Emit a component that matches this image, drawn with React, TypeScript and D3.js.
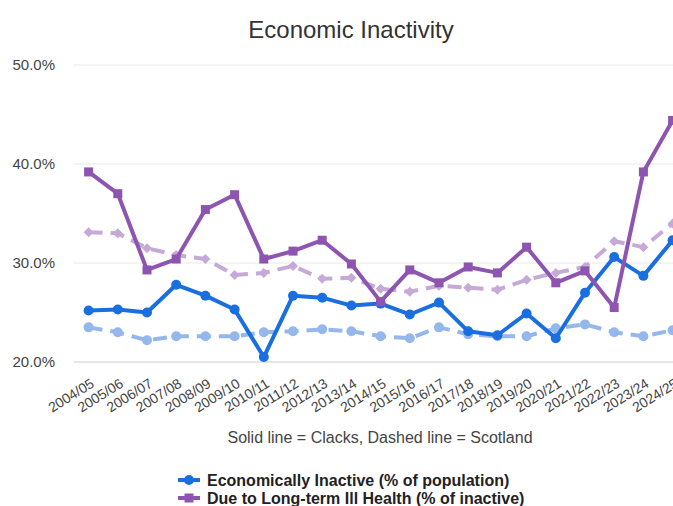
import React from "react";
import * as d3 from "d3";

const categories = ["2004/05","2005/06","2006/07","2007/08","2008/09","2009/10","2010/11","2011/12","2012/13","2013/14","2014/15","2015/16","2016/17","2017/18","2018/19","2019/20","2020/21","2021/22","2022/23","2023/24","2024/25"];
const clacksInactive = [25.2,25.3,25.0,27.8,26.7,25.3,20.5,26.7,26.5,25.7,25.9,24.8,26.0,23.1,22.7,24.9,22.4,27.0,30.6,28.7,32.3];
const clacksIllHealth = [39.2,37.0,29.3,30.4,35.4,36.9,30.4,31.2,32.3,29.9,26.1,29.3,28.0,29.6,29.0,31.6,28.0,29.2,25.5,39.2,44.4];
const scotlandInactive = [23.5,23.0,22.2,22.6,22.6,22.6,23.0,23.1,23.3,23.1,22.6,22.4,23.5,22.8,22.6,22.6,23.4,23.8,23.0,22.6,23.2];
const scotlandIllHealth = [33.1,33.0,31.5,30.8,30.4,28.8,29.0,29.7,28.4,28.5,27.4,27.1,27.7,27.5,27.3,28.3,29.0,29.6,32.2,31.6,34.0];
const yTicks = [20, 30, 40, 50];
const legendLabels = ["Economically Inactive (% of population)", "Due to Long-term Ill Health (% of inactive)"];

const W = 673, H = 506;
const left = 74, top = 65, bottom = 362;
const band = 29.2;
const font = "Arial, 'Liberation Sans', sans-serif";

export default function App() {
  const x = d3.scaleBand<string>().domain(categories).range([left, left + band * categories.length]);
  const cx = (c: string) => (x(c) as number) + x.bandwidth() / 2;
  const y = d3.scaleLinear().domain([20, 50]).range([bottom, top]);
  const line = d3.line<number>().x((_, i) => cx(categories[i])).y((d) => y(d));

  const BLUE = "#1a6fe0";
  const PURPLE = "#8e55b0";
  const LBLUE = "#94b7ec";
  const LPURPLE = "#c5a9d7";

  const sq = 9, dm = 5;
  return (
    <svg width={W} height={H} style={{ position: "absolute", left: 0, top: 0 }}>
      <rect width={W} height={H} fill="#fff" />
      <text x={351} y={38} textAnchor="middle" fontFamily={font} fontSize={24} fill="#333">Economic Inactivity</text>
      {yTicks.map((t) => (
        <g key={t}>
          <line x1={left} x2={W + 20} y1={y(t)} y2={y(t)} stroke={t === 20 ? "#ccc" : "#e8e8e8"} strokeWidth={1} />
          <text x={55} y={y(t) + 5} textAnchor="end" fontFamily={font} fontSize={15} fill="#444">{t.toFixed(1)}%</text>
        </g>
      ))}
      {/* Scotland dashed */}
      <path d={line(scotlandInactive) || ""} fill="none" stroke={LBLUE} strokeWidth={4} strokeDasharray="14 8" />
      {scotlandInactive.map((v, i) => (
        <circle key={"sb" + i} cx={cx(categories[i])} cy={y(v)} r={5} fill={LBLUE} />
      ))}
      <path d={line(scotlandIllHealth) || ""} fill="none" stroke={LPURPLE} strokeWidth={4} strokeDasharray="14 8" />
      {scotlandIllHealth.map((v, i) => {
        const px = cx(categories[i]), py = y(v);
        return <path key={"sp" + i} d={`M${px - dm},${py}L${px},${py - dm}L${px + dm},${py}L${px},${py + dm}Z`} fill={LPURPLE} />;
      })}
      {/* Clacks solid */}
      <path d={line(clacksInactive) || ""} fill="none" stroke={BLUE} strokeWidth={4} strokeLinejoin="round" />
      {clacksInactive.map((v, i) => (
        <circle key={"cb" + i} cx={cx(categories[i])} cy={y(v)} r={5} fill={BLUE} />
      ))}
      <path d={line(clacksIllHealth) || ""} fill="none" stroke={PURPLE} strokeWidth={4} strokeLinejoin="round" />
      {clacksIllHealth.map((v, i) => (
        <rect key={"cp" + i} x={cx(categories[i]) - sq / 2} y={y(v) - sq / 2} width={sq} height={sq} fill={PURPLE} />
      ))}
      {/* x labels */}
      {categories.map((c) => (
        <text key={c} transform={`translate(${cx(c) + 6.5},${bottom + 24}) rotate(-32)`} textAnchor="end" fontFamily={font} fontSize={14} fill="#444">{c}</text>
      ))}
      <text x={380} y={443} textAnchor="middle" fontFamily={font} fontSize={16} fill="#444">Solid line = Clacks, Dashed line = Scotland</text>
      {/* legend */}
      <g>
        <line x1={178} x2={200} y1={480} y2={480} stroke={BLUE} strokeWidth={4} />
        <circle cx={189} cy={480} r={5} fill={BLUE} />
        <text x={207} y={486} fontFamily={font} fontSize={16} fontWeight="bold" fill="#222">{legendLabels[0]}</text>
        <line x1={178} x2={200} y1={498} y2={498} stroke={PURPLE} strokeWidth={4} />
        <rect x={189 - 4.5} y={498 - 4.5} width={9} height={9} fill={PURPLE} />
        <text x={207} y={504} fontFamily={font} fontSize={16} fontWeight="bold" fill="#222">{legendLabels[1]}</text>
      </g>
    </svg>
  );
}
